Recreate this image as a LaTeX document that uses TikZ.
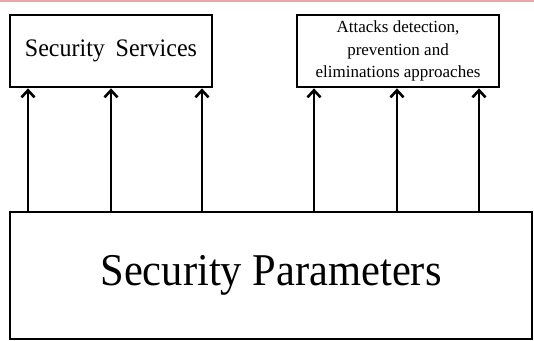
\documentclass[tikz,border=0pt]{standalone}
\usepackage{fontspec}
\setmainfont{Liberation Serif}
\usetikzlibrary{arrows.meta}
\definecolor{topline}{RGB}{228,168,168}
\begin{document}
\begin{tikzpicture}[x=1pt,y=1pt,
  box/.style={draw=black,line width=2.8pt,rectangle,inner sep=0pt,align=center},
  arr/.style={line width=2.6pt,-{Straight Barb[length=7pt,width=13pt,line width=2.6pt]}}]
\useasboundingbox (0,0) rectangle (534,340);
\clip (0,0) rectangle (534,340);
\draw[topline,line width=2pt] (0,339) -- (534,339);
\node[box,minimum width=202pt,minimum height=72pt,font=\fontsize{24}{28}\selectfont] (s) at (111,289) {\scalebox{1}[1.05]{Security\hspace{0.45em}Services}};
\node[box,minimum width=202pt,minimum height=72pt,font=\fontsize{17}{22.5}\selectfont] (a) at (398,289) {Attacks detection,\\prevention and\\eliminations approaches};
\node[box,minimum width=522pt,minimum height=127pt,font=\fontsize{42.5}{50}\selectfont] (p) at (271,64.5) {\raisebox{-3pt}{\scalebox{1}[1.07]{Security Parameters}}};
\foreach \i/\x/\t in {1/28/s,2/111/s,3/202/s,4/314/a,5/397/a,6/479/a}{
  \coordinate (c\i) at (\x,128);
  \draw[arr] (c\i) -- (c\i |- \t.south);
}
\end{tikzpicture}
\end{document}
